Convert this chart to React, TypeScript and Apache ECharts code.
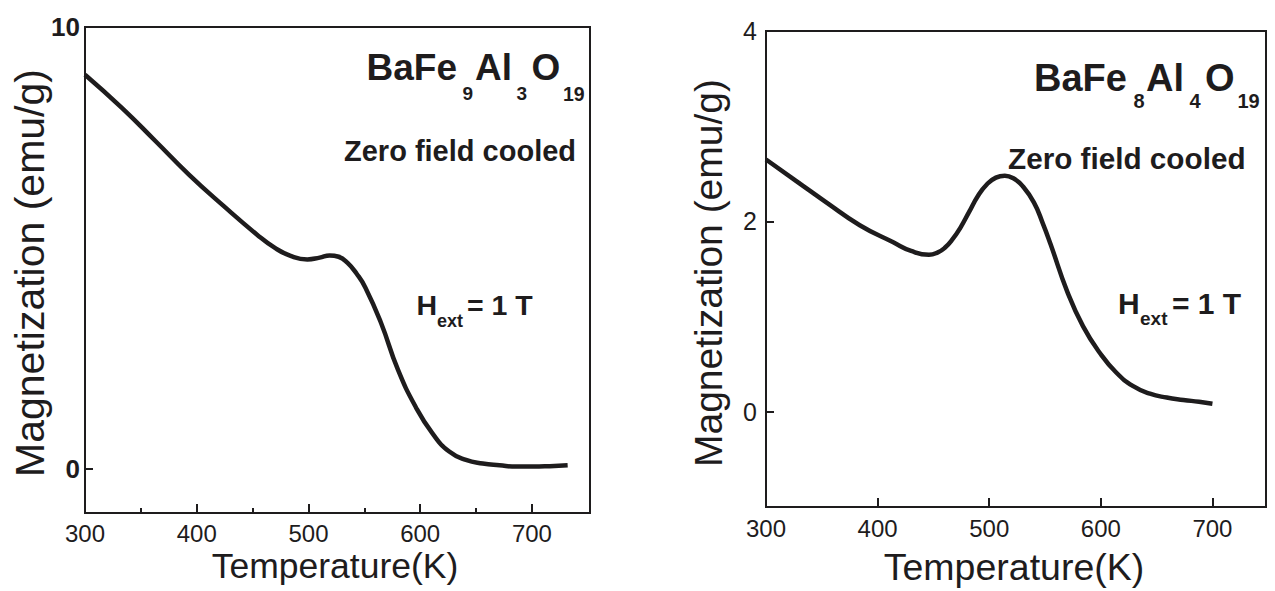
import React, { useEffect, useRef } from "react";
import * as echarts from "echarts";

// ---- data ----
const leftTemp = [300, 333, 363, 393, 424, 454, 470, 484, 499, 510, 519, 527, 535, 543, 551, 565, 580, 596, 611, 626, 641, 656, 671, 686, 701, 716, 732];
const leftMag = [8.92, 8.17, 7.42, 6.66, 5.95, 5.3, 5.0, 4.82, 4.74, 4.78, 4.83, 4.8, 4.66, 4.42, 4.1, 3.3, 2.25, 1.4, 0.8, 0.39, 0.2, 0.12, 0.08, 0.05, 0.05, 0.06, 0.08];

const rightTemp = [300, 330, 354, 384, 414, 430, 446, 454, 460, 467, 474, 482, 490, 498, 506, 514, 522, 530, 540, 548, 555, 570, 584, 599, 614, 629, 644, 659, 674, 688, 700];
const rightMag = [2.65, 2.4, 2.2, 1.96, 1.78, 1.69, 1.65, 1.675, 1.72, 1.81, 1.93, 2.1, 2.27, 2.39, 2.46, 2.48, 2.45, 2.37, 2.2, 1.98, 1.76, 1.26, 0.9, 0.62, 0.41, 0.27, 0.19, 0.15, 0.125, 0.105, 0.085];

const xTickLabels = [300, 400, 500, 600, 700];
const xMajorTicks = [400, 500, 600, 700];
const leftMinorTicks = [350, 450, 550, 650];
const leftYLabels = [0, 10];
const leftYTicks = [0];
const rightYLabels = [0, 2, 4];
const rightYTicks = [0, 2];

const INK = "#1e1c1d";
const FONT = "'Liberation Sans', Arial, Helvetica, sans-serif";

type TxtOpts = { bold?: boolean; align?: string; rot?: number; sx?: number };
const txt = (text: string, x: number, y: number, size: number, o: TxtOpts = {}) => ({
  type: "text",
  x,
  y,
  rotation: o.rot || 0,
  scaleX: o.sx || 1,
  silent: true,
  style: {
    text,
    fontSize: size,
    fontWeight: o.bold ? "bold" : "normal",
    fontFamily: FONT,
    fill: INK,
    textAlign: o.align || "left",
    align: o.align || "left",
    textVerticalAlign: "middle",
    verticalAlign: "middle",
  },
});

export default function App() {
  const ref = useRef<HTMLDivElement>(null);

  useEffect(() => {
    if (!ref.current) return;
    const chart = echarts.init(ref.current, null, { renderer: "svg", width: 1275, height: 591 });

    const tickStyle = { color: INK, width: 2 };
    const noLine = { show: false, onZero: false };
    const xLabel = (size: number, margin: number) => ({
      customValues: xTickLabels,
      fontSize: size,
      fontFamily: FONT,
      color: INK,
      margin,
    });

    const option: any = {
      animation: false,
      backgroundColor: "#ffffff",
      grid: [
        { left: 85, top: 27, width: 505, height: 486, show: true, borderColor: INK, borderWidth: 2, backgroundColor: "transparent" },
        { left: 766, top: 31, width: 500, height: 476, show: true, borderColor: INK, borderWidth: 2, backgroundColor: "transparent" },
      ],
      xAxis: [
        {
          gridIndex: 0, type: "value", min: 300, max: 752, position: "bottom",
          axisLine: noLine, splitLine: { show: false },
          axisTick: { inside: true, length: 9, lineStyle: tickStyle, customValues: xMajorTicks },
          axisLabel: xLabel(24, 8),
        },
        {
          gridIndex: 0, type: "value", min: 300, max: 752, position: "bottom",
          axisLine: noLine, splitLine: { show: false },
          axisTick: { inside: true, length: 5, lineStyle: tickStyle, customValues: leftMinorTicks },
          axisLabel: { show: false },
        },
        {
          gridIndex: 1, type: "value", min: 300, max: 748, position: "bottom",
          axisLine: noLine, splitLine: { show: false },
          axisTick: { inside: true, length: 9, lineStyle: tickStyle, customValues: xMajorTicks },
          axisLabel: xLabel(24, 9),
        },
      ],
      yAxis: [
        {
          gridIndex: 0, type: "value", min: -1, max: 10, position: "left",
          axisLine: noLine, splitLine: { show: false },
          axisTick: { inside: true, length: 8, lineStyle: tickStyle, customValues: leftYTicks },
          axisLabel: { customValues: leftYLabels, fontSize: 26, fontWeight: "bold", fontFamily: FONT, color: INK, margin: 5 },
        },
        {
          gridIndex: 1, type: "value", min: -1, max: 4, position: "left",
          axisLine: noLine, splitLine: { show: false },
          axisTick: { inside: true, length: 8, lineStyle: tickStyle, customValues: rightYTicks },
          axisLabel: { customValues: rightYLabels, fontSize: 25, fontFamily: FONT, color: INK, margin: 9 },
        },
      ],
      series: [
        {
          type: "line", xAxisIndex: 0, yAxisIndex: 0,
          data: leftTemp.map((t, i) => [t, leftMag[i]]),
          showSymbol: false, smooth: 0.5,
          lineStyle: { color: INK, width: 4.5 },
        },
        {
          type: "line", xAxisIndex: 2, yAxisIndex: 1,
          data: rightTemp.map((t, i) => [t, rightMag[i]]),
          showSymbol: false, smooth: 0.5,
          lineStyle: { color: INK, width: 4.5 },
        },
      ],
      graphic: [
        // axis titles
        txt("Magnetization (emu/g)", 30, 273, 41, { align: "center", rot: Math.PI / 2 }),
        txt("Magnetization (emu/g)", 708, 273, 39, { align: "center", rot: Math.PI / 2 }),
        txt("Temperature(K)", 335, 566, 35.5, { align: "center" }),
        txt("Temperature(K)", 1014, 567, 37.5, { align: "center" }),
        // left annotations
        txt("BaFe", 366.5, 67.5, 37, { bold: true }),
        txt("9", 462.5, 93.7, 19, { bold: true }),
        txt("Al", 475, 67.5, 37, { bold: true }),
        txt("3", 516.5, 93.7, 19, { bold: true }),
        txt("O", 531.5, 67.5, 37, { bold: true }),
        txt("19", 563, 93.7, 19.5, { bold: true }),
        txt("Zero field cooled", 344, 150.5, 29, { bold: true }),
        txt("H", 416.5, 305, 28.5, { bold: true }),
        txt("ext", 437, 320.7, 18, { bold: true }),
        txt("= 1 T", 467, 305, 28.5, { bold: true }),
        // right annotations
        txt("BaFe", 1034, 78.3, 38, { bold: true }),
        txt("8", 1133.5, 101, 20, { bold: true }),
        txt("Al", 1146, 78.3, 38, { bold: true }),
        txt("4", 1189.5, 101, 20, { bold: true }),
        txt("O", 1205, 78.3, 38, { bold: true }),
        txt("19", 1237.5, 101, 20, { bold: true }),
        txt("Zero field cooled", 1008, 158.3, 29.7, { bold: true }),
        txt("H", 1118, 303.5, 30, { bold: true }),
        txt("ext", 1140, 318.5, 19, { bold: true }),
        txt("= 1 T", 1172, 303.5, 30, { bold: true }),
      ],
    };

    chart.setOption(option);
    return () => chart.dispose();
  }, []);

  return (
    <div
      ref={ref}
      style={{ position: "fixed", left: 0, top: 0, width: 1275, height: 591, background: "#ffffff" }}
    />
  );
}
